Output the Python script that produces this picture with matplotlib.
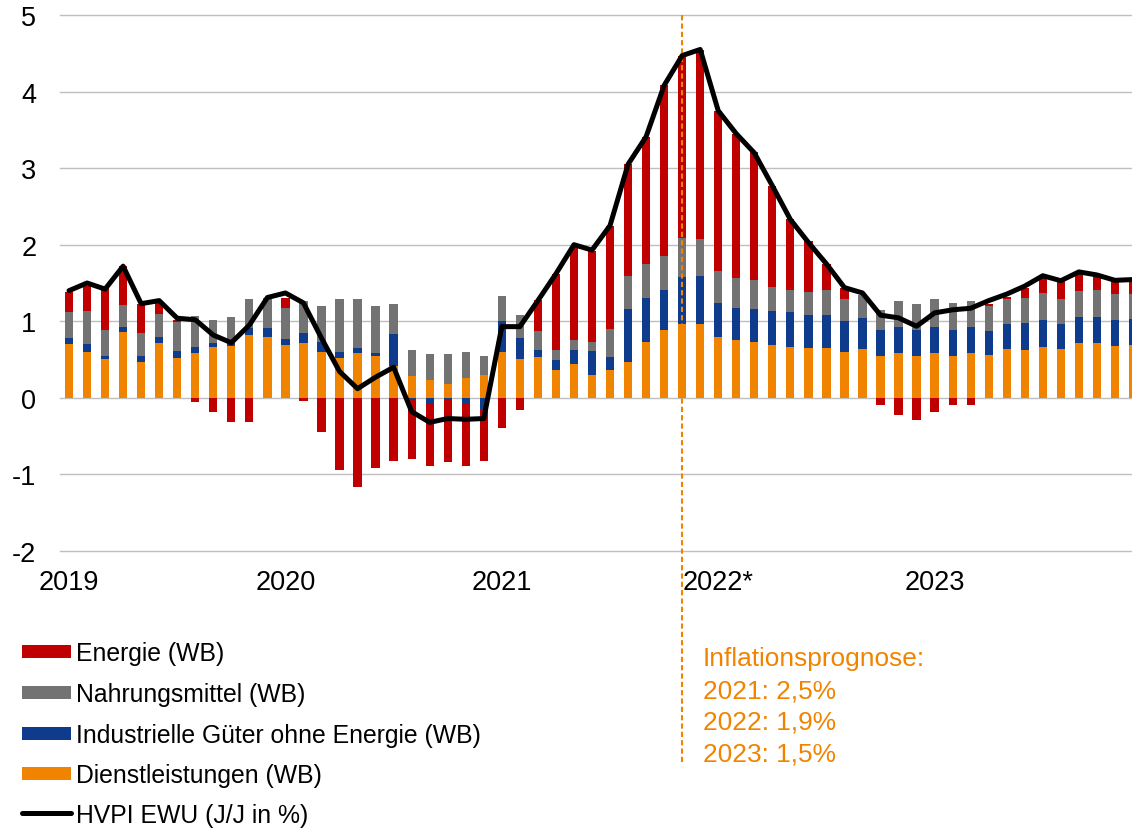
import matplotlib
matplotlib.use("Agg")
import matplotlib.pyplot as plt
import numpy as np
from matplotlib.patches import Rectangle
from matplotlib.lines import Line2D

plt.rcParams['font.family'] = ['Liberation Sans', 'DejaVu Sans']
plt.rcParams['axes.unicode_minus'] = False

# ---- data (monthly, Jan 2019 .. Dec 2023) ----
year_labels = ['2019', '2020', '2021', '2022*', '2023']
year_tick_pos = [0, 12, 24, 36, 48]
forecast_start = 34  # Nov 2021

services = [0.70, 0.60, 0.51, 0.86, 0.47, 0.72, 0.52, 0.58, 0.66, 0.68, 0.82, 0.79,
            0.69, 0.71, 0.60, 0.52, 0.59, 0.545, 0.41, 0.29, 0.235, 0.18, 0.255, 0.295,
            0.60, 0.51, 0.535, 0.37, 0.445, 0.295, 0.36, 0.47, 0.73, 0.88, 0.96, 0.97,
            0.79, 0.755, 0.725, 0.685, 0.67, 0.645, 0.645, 0.595, 0.64, 0.545, 0.585, 0.545,
            0.585, 0.545, 0.585, 0.565, 0.635, 0.63, 0.67, 0.64, 0.71, 0.72, 0.675, 0.685]

industrial = [0.08, 0.10, 0.035, 0.06, 0.075, 0.07, 0.095, 0.08, 0.055, 0.03, 0.09, 0.125,
              0.08, 0.14, 0.13, 0.075, 0.055, 0.045, 0.425, -0.03, -0.08, -0.03, -0.065, -0.14,
              0.40, 0.275, 0.085, 0.12, 0.18, 0.315, 0.175, 0.69, 0.575, 0.53, 0.62, 0.615,
              0.455, 0.425, 0.435, 0.455, 0.45, 0.44, 0.44, 0.41, 0.405, 0.34, 0.345, 0.345,
              0.345, 0.34, 0.345, 0.31, 0.33, 0.345, 0.345, 0.325, 0.35, 0.335, 0.345, 0.345]

food = [0.345, 0.435, 0.335, 0.29, 0.30, 0.31, 0.38, 0.41, 0.305, 0.34, 0.375, 0.39,
        0.40, 0.41, 0.47, 0.69, 0.65, 0.605, 0.385, 0.33, 0.34, 0.39, 0.35, 0.25,
        0.325, 0.30, 0.25, 0.14, 0.125, 0.12, 0.36, 0.435, 0.44, 0.445, 0.505, 0.485,
        0.415, 0.39, 0.38, 0.305, 0.29, 0.295, 0.32, 0.28, 0.30, 0.265, 0.33, 0.33,
        0.355, 0.355, 0.33, 0.33, 0.32, 0.325, 0.355, 0.32, 0.33, 0.35, 0.33, 0.33]

energy = [0.26, 0.33, 0.55, 0.51, 0.375, 0.165, 0.025, -0.06, -0.185, -0.32, -0.32, 0.0,
          0.14, -0.035, -0.445, -0.945, -1.17, -0.915, -0.825, -0.775, -0.81, -0.81, -0.825, -0.68,
          -0.395, -0.16, 0.41, 0.985, 1.215, 1.185, 1.35, 1.465, 1.665, 2.225, 2.385, 2.475,
          2.085, 1.875, 1.665, 1.325, 0.92, 0.665, 0.34, 0.15, 0.0, -0.09, -0.23, -0.29,
          -0.19, -0.09, -0.09, 0.025, 0.035, 0.135, 0.225, 0.235, 0.245, 0.19, 0.185, 0.16]

hvpi = [1.40, 1.50, 1.42, 1.72, 1.23, 1.27, 1.04, 1.02, 0.82, 0.72, 0.95, 1.31,
        1.37, 1.24, 0.78, 0.345, 0.12, 0.27, 0.40, -0.18, -0.32, -0.27, -0.28, -0.27,
        0.93, 0.93, 1.27, 1.62, 2.00, 1.93, 2.25, 3.05, 3.41, 4.08, 4.47, 4.55,
        3.75, 3.45, 3.20, 2.77, 2.33, 2.03, 1.75, 1.44, 1.37, 1.08, 1.045, 0.935,
        1.11, 1.15, 1.17, 1.27, 1.355, 1.46, 1.595, 1.53, 1.645, 1.605, 1.535, 1.545]

series_names = ['Energie (WB)', 'Nahrungsmittel (WB)',
                'Industrielle Güter ohne Energie (WB)', 'Dienstleistungen (WB)']
line_name = 'HVPI EWU (J/J in %)'
forecast_text = ['Inflationsprognose:', '2021: 2,5%', '2022: 1,9%', '2023: 1,5%']

# ---- style ----
C_RED = '#C00000'
C_GRAY = '#737373'
C_BLUE = '#0F3B8C'
C_ORANGE = '#F08400'

W, H = 1132, 829
fig = plt.figure(figsize=(W / 100, H / 100), dpi=100)
ax_left, ax_right = 60, 1142
ax_top, ax_bot = 16, 552
ax = fig.add_axes([ax_left / W, (H - ax_bot) / H, (ax_right - ax_left) / W, (ax_bot - ax_top) / H])

n = len(hvpi)
x = np.arange(n)
bw = 0.46

pos = np.zeros(n)
neg = np.zeros(n)
stack = [(services, C_ORANGE), (industrial, C_BLUE), (food, C_GRAY), (energy, C_RED)]
for vals, col in stack:
    v = np.array(vals)
    bottom = np.where(v >= 0, pos, neg)
    ax.bar(x, v, bw, bottom=bottom, color=col, linewidth=0, zorder=2)
    pos = pos + np.where(v >= 0, v, 0)
    neg = neg + np.where(v < 0, v, 0)

ax.plot(x, hvpi, color='black', lw=3.6, solid_joinstyle='round', solid_capstyle='round', zorder=4)

ax.set_xlim(-0.5, n - 0.5)
ax.set_ylim(-2, 5)
yticks = list(range(-2, 6))
ax.set_yticks(yticks)
ax.set_yticklabels([str(v) for v in yticks])
ax.set_xticks(year_tick_pos)
ax.set_xticklabels(year_labels)
ax.tick_params(axis='y', length=0, pad=17, labelsize=19.5)
ax.tick_params(axis='x', length=0, pad=13, labelsize=19.5)
for s in ax.spines.values():
    s.set_visible(False)
for yv in yticks:
    ax.axhline(yv, color='#BFBFBF', lw=1.0, zorder=0.5, clip_on=False)

# forecast marker line
ax.plot([forecast_start, forecast_start], [-4.75, 5], color=C_ORANGE, lw=1.5,
        ls=(0, (2.5, 1.5)), clip_on=False, zorder=3)

# ---- legend (manual) ----
def fx(px):
    return px / W

def fy(py):
    return (H - py) / H

rows = [652, 693, 734, 774]
cols = [C_RED, C_GRAY, C_BLUE, C_ORANGE]
for yy, col, name in zip(rows, cols, series_names):
    fig.patches.append(Rectangle((fx(22), fy(yy + 6.5)), fx(49), 13 / H,
                                 transform=fig.transFigure, color=col, lw=0))
    fig.text(fx(76), fy(yy), name, fontsize=17.8, va='center_baseline', ha='left')
fig.lines.append(Line2D([fx(22), fx(71)], [fy(814), fy(814)], transform=fig.transFigure,
                        color='black', lw=3.6, solid_capstyle='round'))
fig.text(fx(76), fy(814), line_name, fontsize=17.8, va='center_baseline', ha='left')

for i, t in enumerate(forecast_text):
    fig.text(fx(703), fy(657 + i * 31.7), t, fontsize=18.9, color=C_ORANGE,
             va='center_baseline', ha='left')

fig.savefig('out.png', dpi=100)
